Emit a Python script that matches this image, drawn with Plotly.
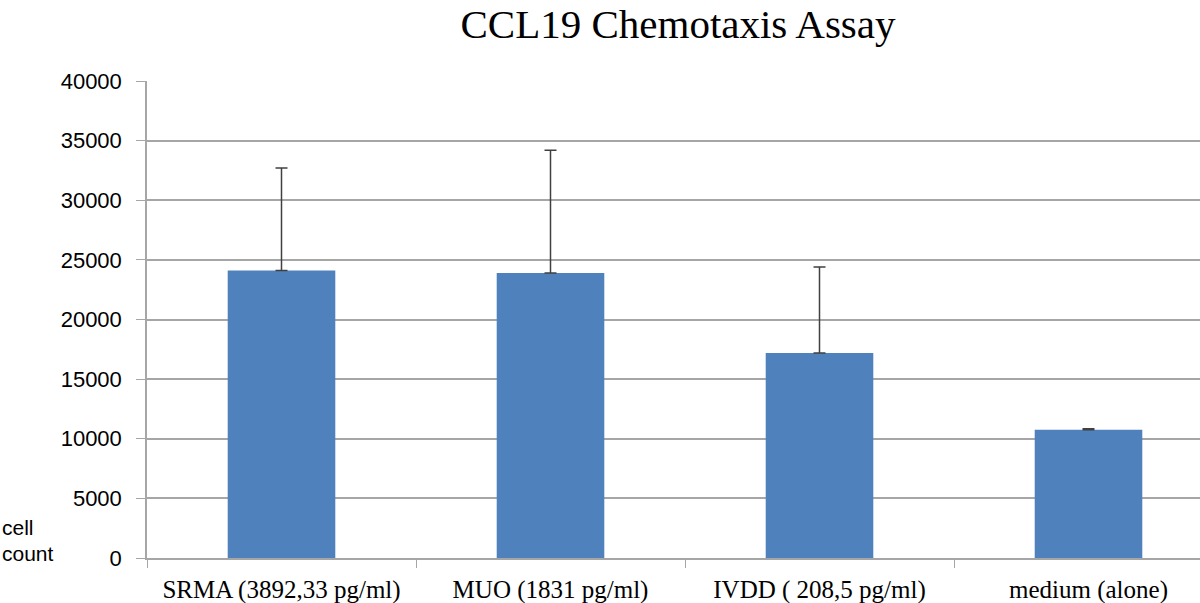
import plotly.graph_objects as go

categories = ["SRMA (3892,33 pg/ml)", "MUO (1831 pg/ml)", "IVDD ( 208,5 pg/ml)", "medium (alone)"]
values = [24100, 23900, 17200, 10750]
errors_up = [8600, 10300, 7200, 80]
y_ticks = [0, 5000, 10000, 15000, 20000, 25000, 30000, 35000, 40000]

W, H = 1200, 603
L, R, T, B = 147, 0, 81, 45
pw = W - L - R
ph = H - T - B

fig = go.Figure()
fig.add_trace(go.Bar(
    x=categories, y=values, width=0.4,
    marker=dict(color="#4F81BD", line=dict(width=0)),
    error_y=dict(type="data", symmetric=False, array=errors_up,
                 arrayminus=[0] * len(values),
                 color="#404040", thickness=1.5, width=6),
))

fig.update_layout(
    width=W, height=H,
    margin=dict(l=L, r=R, t=T, b=B),
    paper_bgcolor="white", plot_bgcolor="white",
    showlegend=False,
    title=dict(text="CCL19 Chemotaxis Assay", x=678 / W, xanchor="center",
               y=1 - 24 / H, yanchor="middle",
               font=dict(family="Liberation Serif", size=41, color="#000000")),
    xaxis=dict(
        type="category",
        range=[-0.5, 3.5 - 23 / 269],
        showline=True, linecolor="#a6a6a6", linewidth=1.5,
        ticks="outside", tickson="boundaries", ticklen=8, tickcolor="#a6a6a6",
        ticklabelstandoff=8,
        showgrid=False,
        tickfont=dict(family="Liberation Serif", size=25, color="#000000"),
    ),
    yaxis=dict(
        range=[0, 40000], tickvals=y_ticks,
        ticktext=[str(v) for v in y_ticks],
        showline=True, linecolor="#a6a6a6", linewidth=1.5,
        ticks="outside", ticklen=9, tickcolor="#a6a6a6",
        ticklabelstandoff=10,
        showgrid=True, gridcolor="#a6a6a6", gridwidth=1.5,
        zeroline=False,
        tickfont=dict(family="Liberation Sans", size=22, color="#000000"),
    ),
    annotations=[
        dict(text="cell", xref="paper", yref="paper", x=-L / pw, y=(558 - 527) / ph,
             xanchor="left", yanchor="middle", showarrow=False,
             font=dict(family="Liberation Sans", size=21, color="#000000")),
        dict(text="count", xref="paper", yref="paper", x=-L / pw, y=(558 - 553) / ph,
             xanchor="left", yanchor="middle", showarrow=False,
             font=dict(family="Liberation Sans", size=21, color="#000000")),
    ],
)

fig.write_html("out.html", config={"displayModeBar": False},
               post_script="document.body.style.margin='0';document.body.style.padding='0';")
